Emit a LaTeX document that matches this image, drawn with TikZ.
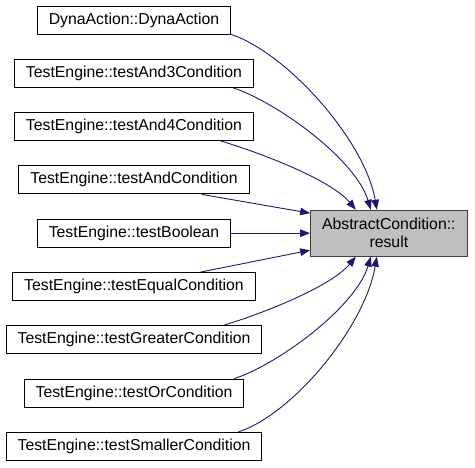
\documentclass[tikz,border=0pt]{standalone}
\usepackage{fontspec}
\setmainfont{Liberation Sans}
\usetikzlibrary{calc,arrows.meta,positioning}

\definecolor{edgeblue}{RGB}{25,25,112}
\definecolor{resultgray}{RGB}{191,191,191}
\definecolor{resultline}{RGB}{64,64,64}

\begin{document}
\begin{tikzpicture}[
  x=1pt, y=-1pt,
  node distance=24.4pt,
  every node/.style={draw, rectangle, minimum height=28pt, inner xsep=11.5pt, inner ysep=3pt,
    font=\fontsize{15.8}{18}\selectfont, line width=0.9pt},
  caller/.style={fill=white},
  target/.style={fill=resultgray, draw=resultline, align=center, minimum height=46pt},
  edge/.style={draw=edgeblue, line width=0.9pt, -{Triangle[length=10pt,width=7.5pt]}}
]
\useasboundingbox (0,0) rectangle (475,467);

% callers
\node[caller] (dyna) at (134,20) {DynaAction::DynaAction};
\node[caller, below=of dyna] (andthree) {TestEngine::testAnd3Condition};
\node[caller, below=of andthree] (andfour) {TestEngine::testAnd4Condition};
\node[caller, below=of andfour] (andcond) {TestEngine::testAndCondition};
\node[caller, below=of andcond] (boolean) {TestEngine::testBoolean};
\node[caller, below=of boolean] (equal) {TestEngine::testEqualCondition};
\node[caller, below=of equal] (greater) {TestEngine::testGreaterCondition};
\node[caller, below=of greater] (orcond) {TestEngine::testOrCondition};
\node[caller, below=of orcond] (smaller) {TestEngine::testSmallerCondition};

% callee
\node[target, right=79pt of boolean] (result) {AbstractCondition::\\result};

% calls
\draw[edge] (dyna.south east) .. controls +(55,18) and +(-12,-70) .. ([xshift=-12pt]result.north);
\draw[edge] ([xshift=-21pt]andthree.south east) .. controls +(45,15) and +(-15,-50) .. ([xshift=-18pt]result.north);
\draw[edge] ([xshift=-33pt]andfour.south east) .. controls +(40,12) and +(-25,-30) .. ([xshift=-33pt]result.north);
\draw[edge] ([xshift=-48pt]andcond.south east) -- ([yshift=20pt]result.west);
\draw[edge] (boolean.east) -- (result.west);
\draw[edge] ([xshift=-55pt]equal.north east) -- ([yshift=-17pt]result.west);
\draw[edge] ([xshift=-39pt]greater.north east) .. controls +(40,-12) and +(-25,30) .. ([xshift=-33pt]result.south);
\draw[edge] ([xshift=-10pt]orcond.north east) .. controls +(45,-15) and +(-15,50) .. ([xshift=-18pt]result.south);
\draw[edge] ([xshift=-24pt]smaller.north east) .. controls +(55,-18) and +(-12,70) .. ([xshift=-12pt]result.south);
\end{tikzpicture}
\end{document}
